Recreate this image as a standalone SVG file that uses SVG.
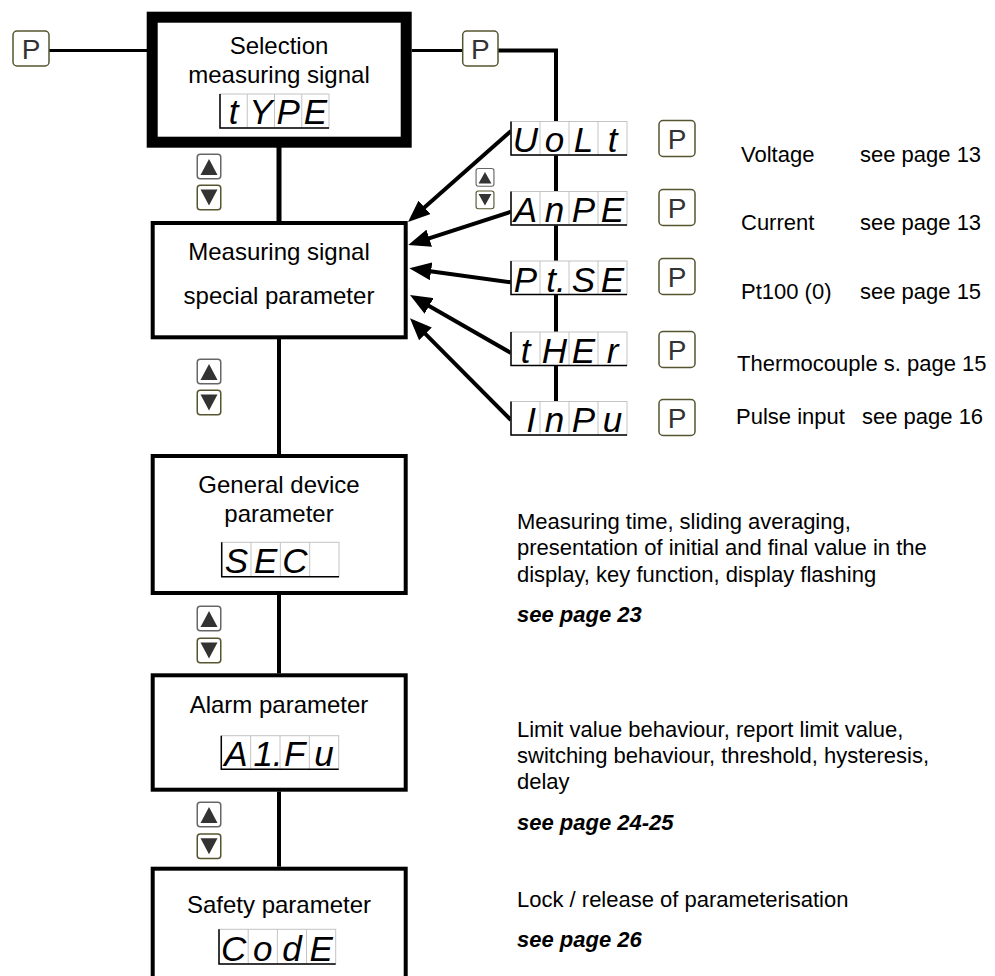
<svg xmlns="http://www.w3.org/2000/svg" xmlns:xlink="http://www.w3.org/1999/xlink" width="995" height="976" viewBox="0 0 995 976">
<style>
.lbl{font-family:"Liberation Sans",Arial,sans-serif;font-size:24px;fill:#000;text-anchor:middle}
.txt{font-family:"Liberation Sans",Arial,sans-serif;font-size:22px;fill:#000}
.bi{font-family:"Liberation Sans",Arial,sans-serif;font-size:22px;font-weight:bold;font-style:italic;fill:#000}
.seg{font-family:"Liberation Sans",Arial,sans-serif;font-size:35px;font-style:italic;fill:#000;text-anchor:middle}
.pk{font-family:"Liberation Sans",Arial,sans-serif;font-size:28px;fill:#333;text-anchor:middle}
.pbox{fill:#fff;stroke:#55552f;stroke-width:1.5}
.frame{fill:#fff;stroke:#c4c4c4;stroke-width:1}
.sep{stroke:#c4c4c4;stroke-width:1;fill:none}
.edge{stroke:#000;stroke-width:1.5;fill:none}
.box{fill:#fff;stroke:#000;stroke-width:4}
.conn{stroke:#000;fill:none}
.tri{fill:#333}
</style>
<defs>
<marker id="ah" markerUnits="userSpaceOnUse" markerWidth="22" markerHeight="18" refX="10" refY="9" orient="auto">
<path d="M0,0 L22,9 L0,18 z" fill="#000"/>
</marker>
<g id="up">
<rect x="0.75" y="0.75" width="23.5" height="24.5" rx="3" fill="#fff" stroke="#666" stroke-width="1.5"/>
<path class="tri" d="M12.5,5.5 L21,21.5 L4,21.5 z"/>
</g>
<g id="down">
<rect x="0.75" y="0.75" width="23.5" height="24.5" rx="3" fill="#fff" stroke="#55552f" stroke-width="1.5"/>
<path class="tri" d="M4,5 L21,5 L12.5,21 z"/>
</g>
</defs>
<rect width="995" height="976" fill="#fff"/>

<g id="connectors">
<path class="conn" stroke-width="3" d="M49,50.5 H147"/>
<path class="conn" stroke-width="3" d="M411.7,50.5 H462.7"/>
<path class="conn" stroke-width="4" d="M498,50.5 H556 V121.5"/>
<path class="conn" stroke-width="5" d="M279,147 V221"/>
<path class="conn" stroke-width="4" d="M279,328 V454"/>
<path class="conn" stroke-width="4" d="M279,595 V673.5"/>
<path class="conn" stroke-width="4" d="M279,791.5 V866.7"/>
<path class="conn" stroke-width="4" d="M556,150 V191.5 M556,222 V261 M556,291 V332 M556,360 V401.5"/>
<path class="conn" stroke-width="4" marker-end="url(#ah)" d="M511,131 L417,214"/>
<path class="conn" stroke-width="4" marker-end="url(#ah)" d="M511,211.7 L419.7,241.3"/>
<path class="conn" stroke-width="4" marker-end="url(#ah)" d="M511,282.3 L421.2,269.9"/>
<path class="conn" stroke-width="4" marker-end="url(#ah)" d="M511,353 L420.4,301"/>
<path class="conn" stroke-width="4" marker-end="url(#ah)" d="M511,420 L418.4,326.8"/>
</g>

<g id="p-left">
<rect class="pbox" x="13" y="31" width="36" height="35" rx="4"/>
<text class="pk" x="31" y="58.5">P</text>
</g>
<g id="p-top">
<rect class="pbox" x="462.7" y="31" width="35.3" height="35" rx="4"/>
<text class="pk" x="480.4" y="58.5">P</text>
</g>

<g id="node-type">
<rect x="152.2" y="17.2" width="254" height="125" fill="#fff" stroke="#000" stroke-width="11"/>
<text class="lbl" x="279" y="54.3">Selection</text>
<text class="lbl" x="279" y="83.3">measuring signal</text>
<rect class="frame" x="220" y="94" width="109" height="34"/>
<path class="sep" d="M247.25,94 V128 M274.5,94 V128 M301.75,94 V128"/>
<path class="edge" d="M220,94 V128 H329"/>
<text class="seg" x="233.6" y="124">t</text>
<text class="seg" x="260.9" y="124">Y</text>
<text class="seg" x="288.1" y="124">P</text>
<text class="seg" x="315.4" y="124">E</text>
</g>

<g id="node-special">
<rect class="box" x="152.7" y="223" width="253" height="114.3"/>
<text class="lbl" x="279" y="260">Measuring signal</text>
<text class="lbl" x="279" y="304">special parameter</text>
</g>

<g id="node-general">
<rect class="box" x="152.7" y="456" width="253" height="137"/>
<text class="lbl" x="279" y="492.7">General device</text>
<text class="lbl" x="279" y="522.3">parameter</text>
<rect class="frame" x="221.7" y="542.3" width="117.3" height="34.4"/>
<path class="sep" d="M251,542.3 V576.7 M280.35,542.3 V576.7 M309.7,542.3 V576.7"/>
<path class="edge" d="M221.7,542.3 V576.7 H339"/>
<text class="seg" x="236.4" y="573">S</text>
<text class="seg" x="265.7" y="573">E</text>
<text class="seg" x="295" y="573">C</text>
</g>

<g id="node-alarm">
<rect class="box" x="152.7" y="675.3" width="253" height="114.4"/>
<text class="lbl" x="279" y="712.7">Alarm parameter</text>
<rect class="frame" x="221.3" y="735.7" width="117.4" height="33.6"/>
<path class="sep" d="M250.65,735.7 V769.3 M280,735.7 V769.3 M309.35,735.7 V769.3"/>
<path class="edge" d="M221.3,735.7 V769.3 H338.7"/>
<text class="seg" x="236" y="766">A</text>
<text class="seg" x="268" y="766">1.</text>
<text class="seg" x="294.7" y="766">F</text>
<text class="seg" x="324" y="766">u</text>
</g>

<g id="node-safety">
<rect class="box" x="152.7" y="868.7" width="253" height="200"/>
<text class="lbl" x="279" y="913.3">Safety parameter</text>
<rect class="frame" x="219" y="929.3" width="116.7" height="34.7"/>
<path class="sep" d="M248.2,929.3 V964 M277.35,929.3 V964 M306.5,929.3 V964"/>
<path class="edge" d="M219,929.3 V964 H335.7"/>
<text class="seg" x="233.6" y="960.5">C</text>
<text class="seg" x="262.8" y="960.5">o</text>
<text class="seg" x="291.9" y="960.5">d</text>
<text class="seg" x="321.1" y="960.5">E</text>
</g>

<g id="node-volt">
<rect class="frame" x="511" y="121.5" width="116" height="33.5"/>
<path class="sep" d="M540,121.5 V155 M569,121.5 V155 M598,121.5 V155"/>
<path class="edge" d="M511,121.5 V155 H627"/>
<text class="seg" x="525.5" y="152">U</text>
<text class="seg" x="554.5" y="152">o</text>
<text class="seg" x="583.5" y="152">L</text>
<text class="seg" x="612.5" y="152">t</text>
<rect class="pbox" x="659" y="120.5" width="36" height="36" rx="4"/>
<text class="pk" x="677" y="148.5">P</text>
<text class="txt" x="741" y="161.7">Voltage</text>
<text class="txt" x="860" y="161.7">see page 13</text>
</g>

<g id="node-ampe">
<rect class="frame" x="511" y="191.5" width="116" height="33.5"/>
<path class="sep" d="M540,191.5 V225 M569,191.5 V225 M598,191.5 V225"/>
<path class="edge" d="M511,191.5 V225 H627"/>
<text class="seg" x="525.5" y="222">A</text>
<text class="seg" x="554.5" y="222">n</text>
<text class="seg" x="583.5" y="222">P</text>
<text class="seg" x="612.5" y="222">E</text>
<rect class="pbox" x="659" y="189.5" width="36" height="36" rx="4"/>
<text class="pk" x="677" y="217.5">P</text>
<text class="txt" x="741" y="230">Current</text>
<text class="txt" x="860" y="230">see page 13</text>
</g>

<g id="node-ptse">
<rect class="frame" x="511" y="261" width="116" height="33.5"/>
<path class="sep" d="M540,261 V294.5 M569,261 V294.5 M598,261 V294.5"/>
<path class="edge" d="M511,261 V294.5 H627"/>
<text class="seg" x="525.5" y="291.5">P</text>
<text class="seg" x="556" y="291.5">t.</text>
<text class="seg" x="583.5" y="291.5">S</text>
<text class="seg" x="612.5" y="291.5">E</text>
<rect class="pbox" x="659" y="258.5" width="36" height="36" rx="4"/>
<text class="pk" x="677" y="286.5">P</text>
<text class="txt" x="741" y="299">Pt100 (0)</text>
<text class="txt" x="860" y="299">see page 15</text>
</g>

<g id="node-ther">
<rect class="frame" x="511" y="332" width="116" height="33.5"/>
<path class="sep" d="M540,332 V365.5 M569,332 V365.5 M598,332 V365.5"/>
<path class="edge" d="M511,332 V365.5 H627"/>
<text class="seg" x="525.5" y="362.5">t</text>
<text class="seg" x="554.5" y="362.5">H</text>
<text class="seg" x="583.5" y="362.5">E</text>
<text class="seg" x="612.5" y="362.5">r</text>
<rect class="pbox" x="659" y="331.5" width="36" height="36" rx="4"/>
<text class="pk" x="677" y="359.5">P</text>
<text class="txt" x="737" y="371">Thermocouple s. page 15</text>
</g>

<g id="node-inpu">
<rect class="frame" x="511" y="401.5" width="116" height="33.5"/>
<path class="sep" d="M540,401.5 V435 M569,401.5 V435 M598,401.5 V435"/>
<path class="edge" d="M511,401.5 V435 H627"/>
<text class="seg" x="531" y="432">I</text>
<text class="seg" x="554.5" y="432">n</text>
<text class="seg" x="583.5" y="432">P</text>
<text class="seg" x="612.5" y="432">u</text>
<rect class="pbox" x="659" y="399.5" width="36" height="36" rx="4"/>
<text class="pk" x="677" y="427.5">P</text>
<text class="txt" x="736" y="424">Pulse input</text>
<text class="txt" x="862" y="424">see page 16</text>
</g>

<g id="buttons">
<use xlink:href="#up" x="196.5" y="153.5"/>
<use xlink:href="#down" x="196.5" y="184.5"/>
<use xlink:href="#up" x="196.5" y="358.5"/>
<use xlink:href="#down" x="196.5" y="389.5"/>
<use xlink:href="#up" x="196.5" y="605.5"/>
<use xlink:href="#down" x="196.5" y="637.5"/>
<use xlink:href="#up" x="196.5" y="801.5"/>
<use xlink:href="#down" x="196.5" y="833.3"/>
<use xlink:href="#up" transform="translate(475.5,168) scale(0.76,0.72)"/>
<use xlink:href="#down" transform="translate(475.5,190.5) scale(0.76,0.72)"/>
</g>

<g id="desc-general">
<text class="txt" x="517" y="529">Measuring time, sliding averaging,</text>
<text class="txt" x="517" y="555">presentation of initial and final value in the</text>
<text class="txt" x="517" y="581.7">display, key function, display flashing</text>
<text class="bi" x="517" y="621.7">see page 23</text>
</g>
<g id="desc-alarm">
<text class="txt" x="517" y="736.7">Limit value behaviour, report limit value,</text>
<text class="txt" x="517" y="762.7">switching behaviour, threshold, hysteresis,</text>
<text class="txt" x="517" y="788.7">delay</text>
<text class="bi" x="517" y="830">see page 24-25</text>
</g>
<g id="desc-safety">
<text class="txt" x="517" y="906.7">Lock / release of parameterisation</text>
<text class="bi" x="517" y="946.7">see page 26</text>
</g>
</svg>
